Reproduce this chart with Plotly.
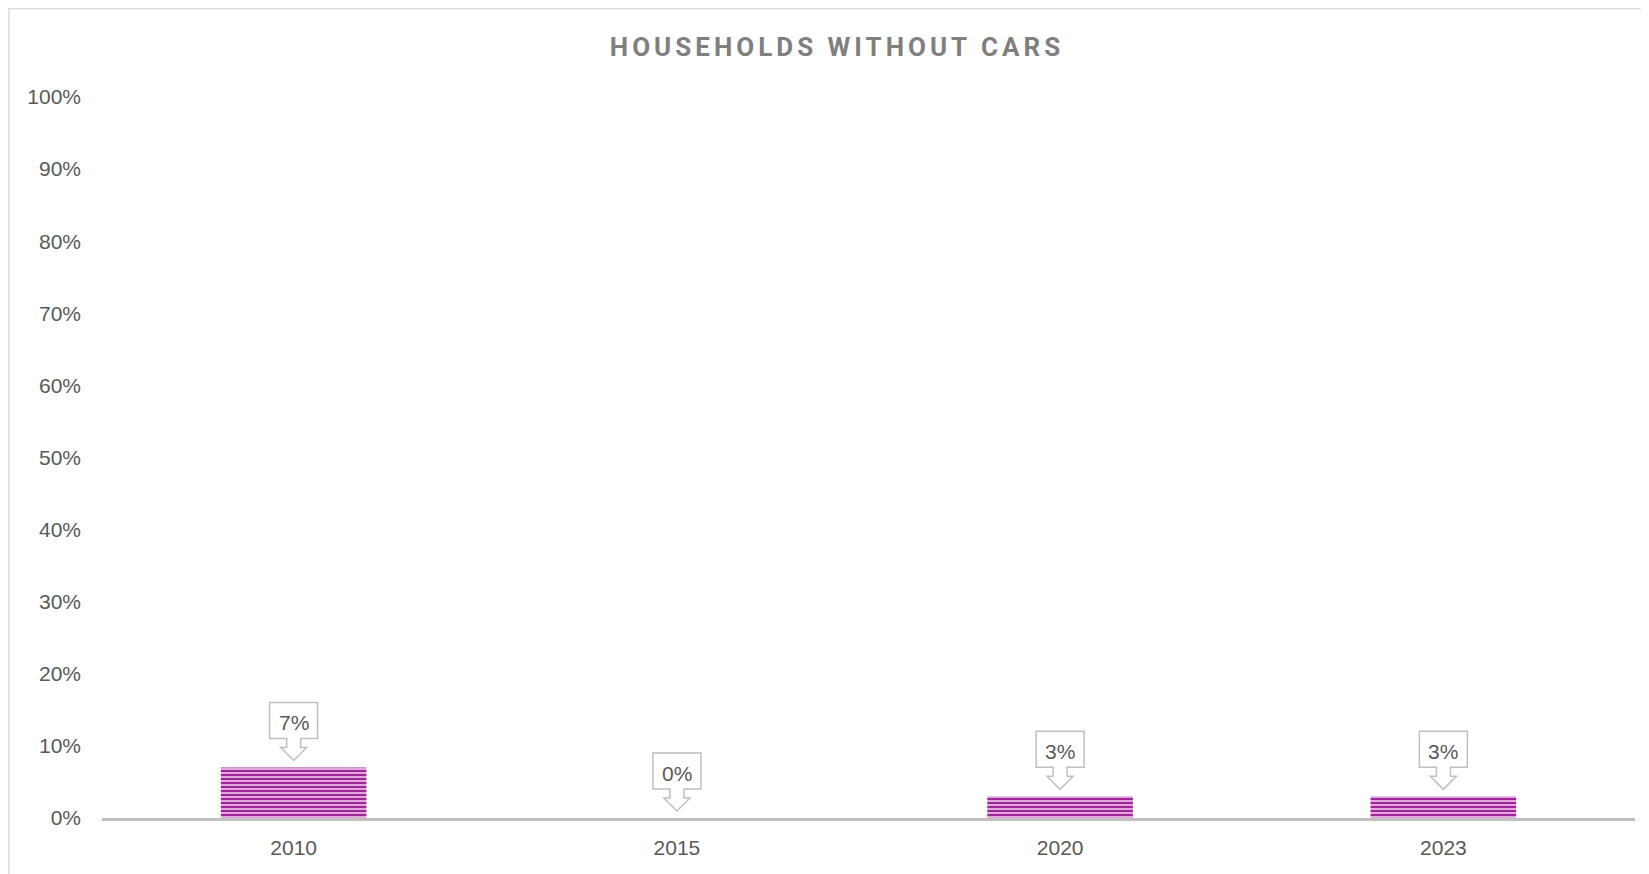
import plotly.graph_objects as go

# ---- data ----
years = ["2010", "2015", "2020", "2023"]
share_without_car = [0.07, 0.00, 0.03, 0.03]
label_text = ["7%", "0%", "3%", "3%"]
y_tick_vals = [0, 0.1, 0.2, 0.3, 0.4, 0.5, 0.6, 0.7, 0.8, 0.9, 1.0]
y_tick_text = ["0%", "10%", "20%", "30%", "40%", "50%", "60%", "70%", "80%", "90%", "100%"]

W, H = 1649, 874
ML, MR, MT, MB = 94, 22, 89, 64
TICK_FONT = dict(family="Liberation Sans, Arial, sans-serif", size=21, color="#595959")

xpos = list(range(len(years)))

fig = go.Figure()
fig.add_trace(go.Bar(
    x=xpos, y=share_without_car, width=0.38,
    marker=dict(
        color="#e9b4e2",
        line=dict(width=0),
        pattern=dict(shape="-", fgcolor="#a0259a", bgcolor="#e9b4e2",
                     size=4, solidity=0.55, fillmode="replace"),
    ),
    hoverinfo="skip",
))

# callout shapes (pixel-sized, anchored at each bar value)
callout_path = ("M -24 65 L 24 65 L 24 29 L 7 29 L 7 20 L 13 20 L 0 7 "
                "L -13 20 L -7 20 L -7 29 L -24 29 Z")
shapes = []
annotations = []
for xi, v, t in zip(xpos, share_without_car, label_text):
    shapes.append(dict(
        type="path", xref="x", yref="y",
        xsizemode="pixel", ysizemode="pixel", xanchor=xi, yanchor=v,
        path=callout_path, fillcolor="white",
        line=dict(color="#bfbfbf", width=1.5), layer="above",
    ))
    annotations.append(dict(
        x=xi, y=v, xref="x", yref="y", text=t, showarrow=False,
        yshift=45, font=TICK_FONT, xanchor="center", yanchor="middle",
    ))

# outer chart border (extends past the visible window, as in the reference)
pw = W - ML - MR
ph = H - MT - MB
shapes.append(dict(
    type="rect", xref="paper", yref="paper",
    x0=(1 - ML) / pw, x1=(W + 20 - ML) / pw,
    y0=-(MB + 20) / ph, y1=1 + (MT - 0.5) / ph,
    line=dict(color="#d9d9d9", width=1.5), fillcolor="rgba(0,0,0,0)", layer="below",
))

fig.update_layout(
    width=W, height=H,
    margin=dict(l=ML, r=MR, t=MT, b=MB, autoexpand=False),
    paper_bgcolor="white", plot_bgcolor="white",
    showlegend=False,
    title=dict(
        text="<b>HOUSEHOLDS WITHOUT CARS</b>",
        x=829 / W, xref="container", xanchor="center",
        y=1 - 38.5 / H, yref="container", yanchor="middle",
        font=dict(family="Roboto, Arial, sans-serif", size=26, color="#7f7f7f"),
    ),
    xaxis=dict(
        range=[-0.5, 3.5], tickvals=xpos, ticktext=years,
        showgrid=False, zeroline=False, showline=True,
        linecolor="#c0c0c0", linewidth=3, ticks="",
        tickfont=TICK_FONT, ticklabelstandoff=9,
    ),
    yaxis=dict(
        range=[0, 1], tickvals=y_tick_vals, ticktext=y_tick_text,
        showgrid=False, zeroline=False, showline=False, ticks="",
        tickfont=TICK_FONT, ticklabelstandoff=20,
    ),
    shapes=shapes,
    annotations=annotations,
)

post = """
var t = document.querySelector('.gtitle');
if (t) { t.style.letterSpacing = '4px'; }
"""
fig.write_html("out.html", post_script=post, config={"displayModeBar": False})
